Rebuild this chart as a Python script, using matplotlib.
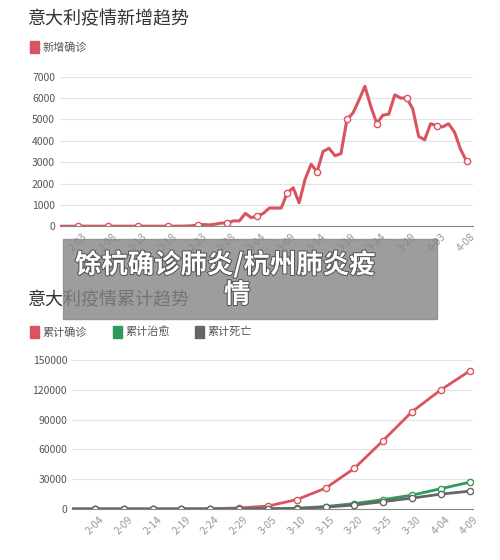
import numpy as np
import matplotlib.pyplot as plt
from matplotlib.patches import Rectangle
import matplotlib.patheffects as pe

plt.rcParams['font.family'] = ['Noto Sans CJK SC', 'DejaVu Sans']

# daily new cases, 1-31 .. 4-08 (day 0 = 2-03)
new_days = list(range(-3, 66))
early = [0, 0, 0, 2, 3, 3, 3, 3, 3, 3, 3, 3, 3, 3, 3, 3, 3, 3, 3, 3, 5, 10, 20]  # 1-31 .. 2-22
late = [60, 80, 60, 100, 150, 150, 250, 250, 600, 400, 480, 600, 850, 850, 850, 1550, 1800,
        1100, 2200, 2900, 2550, 3500, 3650, 3300, 3400, 5000, 5300, 5900, 6550, 5600,
        4800, 5200, 5250, 6150, 6000, 6000, 5500, 4200, 4050, 4800, 4700, 4650, 4800,
        4400, 3600, 3050]  # 2-23 .. 4-08
new_cases = early + late
new_ticks = ['2-03', '2-08', '2-13', '2-18', '2-23', '2-28', '3-04', '3-09', '3-14',
             '3-19', '3-24', '3-29', '4-03', '4-08']

# cumulative, every 5 days from 2-04 (plus 1-31 start)
cum_days = [-4, 0, 5, 10, 15, 20, 25, 30, 35, 40, 45, 50, 55, 60, 65]
confirmed = [0, 3, 3, 3, 3, 300, 1100, 3000, 9500, 21000, 41000, 69000, 98000, 120000, 139000]
recovered = [0, 0, 0, 0, 0, 0, 50, 300, 700, 2500, 5500, 9500, 14000, 20500, 27000]
deaths = [0, 0, 0, 0, 0, 0, 30, 150, 500, 2000, 4000, 7500, 11000, 15000, 18000]
cum_ticks = ['2-04', '2-09', '2-14', '2-19', '2-24', '2-29', '3-05', '3-10', '3-15',
             '3-20', '3-25', '3-30', '4-04', '4-09']

red = '#d9545f'
green = '#2e9b5a'
grey = '#666666'

fig = plt.figure(figsize=(5, 5.6), dpi=100)

def style(ax):
    for s in ['top', 'right', 'left']:
        ax.spines[s].set_visible(False)
    ax.spines['bottom'].set_color('#888888')
    ax.grid(axis='y', color='#e3e3e3', lw=0.8)
    ax.set_axisbelow(True)
    ax.tick_params(length=0, labelsize=7.5, colors='#555555')
    ax.tick_params(axis='x', labelcolor='#999999', pad=4)
    for t in ax.get_xticklabels():
        t.set_rotation(45)

fig.text(0.055, 0.965, '意大利疫情新增趋势', fontsize=13, color='#333333', va='center')
fig.patches.append(Rectangle((0.06, 0.906), 0.018, 0.02, color=red, transform=fig.transFigure))
fig.text(0.085, 0.916, '新增确诊', fontsize=8, color='#555555', va='center')

ax1 = fig.add_axes([0.12, 0.596, 0.825, 0.267])
ax1.plot(new_days, new_cases, color=red, lw=2.2, marker='o', markevery=list(range(3, len(new_days), 5)),
         mfc='white', mec=red, ms=4.5)
ax1.set_ylim(0, 7000)
ax1.set_yticks(range(0, 7001, 1000))
ax1.set_xlim(-3, 66)
ax1.set_xticks(range(0, 66, 5))
ax1.set_xticklabels(new_ticks)
style(ax1)

fig.text(0.055, 0.463, '意大利疫情累计趋势', fontsize=13, color='#333333', va='center')
for x, c, lab in [(0.06, red, '累计确诊'), (0.225, green, '累计治愈'), (0.39, grey, '累计死亡')]:
    fig.patches.append(Rectangle((x, 0.397), 0.018, 0.02, color=c, transform=fig.transFigure))
    fig.text(x + 0.025, 0.407, lab, fontsize=8, color='#555555', va='center')

ax2 = fig.add_axes([0.144, 0.091, 0.801, 0.266])
mk = dict(marker='o', mfc='white', ms=4.5, markevery=list(range(1, len(cum_days))))
ax2.plot(cum_days, confirmed, color=red, lw=2, mec=red, **mk)
ax2.plot(cum_days, recovered, color=green, lw=2, mec=green, **mk)
ax2.plot(cum_days, deaths, color=grey, lw=2, mec=grey, **mk)
ax2.set_ylim(0, 150000)
ax2.set_yticks(range(0, 150001, 30000))
ax2.set_xlim(-4, 65.5)
ax2.set_xticks(range(0, 66, 5))
ax2.set_xticklabels(cum_ticks)
style(ax2)

# overlay banner
fig.patches.append(Rectangle((0.126, 0.430), 0.748, 0.143, color='#858585', alpha=0.8,
                             transform=fig.transFigure, zorder=10))
fx = [pe.withStroke(linewidth=1.5, foreground='#555555')]
fig.text(0.15, 0.527, '馀杭确诊肺炎/杭州肺炎疫', fontsize=19, fontweight='bold', color='white',
         va='center', zorder=11, path_effects=fx)
fig.text(0.448, 0.473, '情', fontsize=19, fontweight='bold', color='white',
         va='center', zorder=11, path_effects=fx)

fig.savefig('out.png', dpi=100)
